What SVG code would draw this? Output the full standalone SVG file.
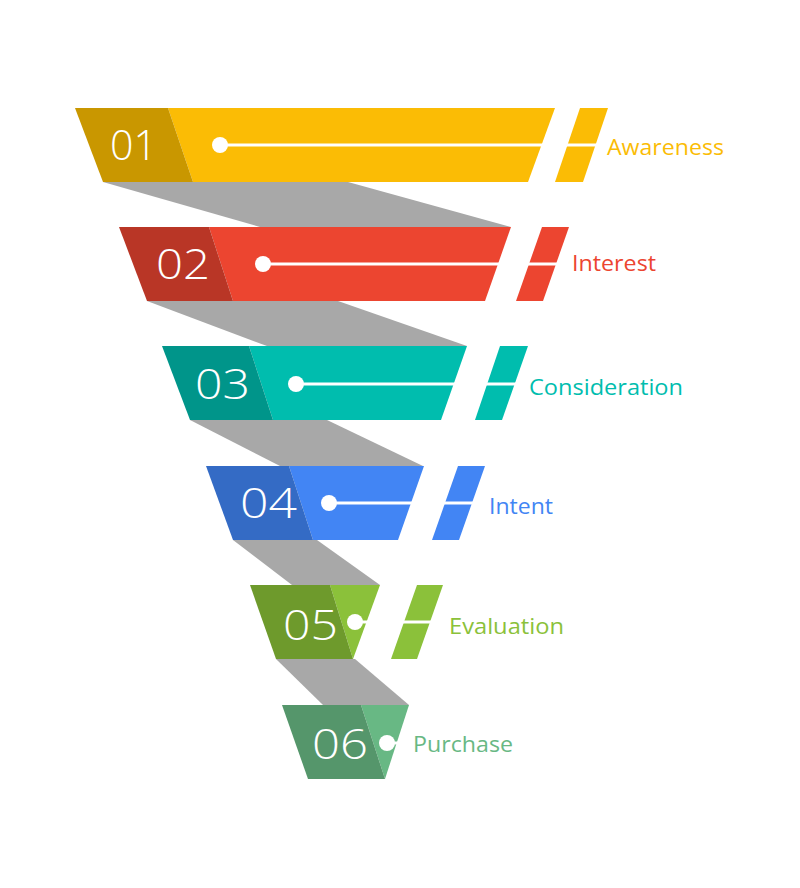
<svg xmlns="http://www.w3.org/2000/svg" width="800" height="888" viewBox="0 0 800 888">
<style>
.num{font-family:"Open Sans","Liberation Sans",sans-serif;font-weight:300;font-size:42px;fill:#fff}
.lbl{font-family:"Open Sans","Liberation Sans",sans-serif;font-weight:400;font-size:21px}
.ln{stroke:#fff;stroke-width:3}
.grey{fill:#a8a8a8}
</style>
<rect width="800" height="888" fill="#fff"/>
<g id="connectors">
<polygon class="grey" points="103,182 348,182 511,227 260,227"/>
<polygon class="grey" points="147,301 338,301 467,346 267,346"/>
<polygon class="grey" points="190,420 327,420 423,466 280,466"/>
<polygon class="grey" points="233,540 317,540 380,585 292,585"/>
<polygon class="grey" points="276,659 355,659 409,705 323,705"/>
</g>
<g id="stage1">
<polygon fill="#fbbc05" points="168,108 555,108 528,182 193,182"/>
<polygon fill="#c99700" points="75,108 168,108 193,182 103,182"/>
<polygon fill="#fbbc05" points="580,108 608,108 583,182 555,182"/>
<line class="ln" x1="220" y1="145" x2="610" y2="145"/>
<circle cx="220" cy="145" r="8" fill="#fff"/>
<text class="num" x="110" y="160" textLength="47" lengthAdjust="spacingAndGlyphs">01</text>
<text class="lbl" x="607" y="155" fill="#fbbc05" textLength="117" lengthAdjust="spacingAndGlyphs">Awareness</text>
</g>
<g id="stage2">
<polygon fill="#ec4530" points="209,227 511,227 485,301 233,301"/>
<polygon fill="#b93626" points="119,227 209,227 233,301 147,301"/>
<polygon fill="#ec4530" points="542,227 569,227 543,301 516,301"/>
<line class="ln" x1="263" y1="264" x2="571" y2="264"/>
<circle cx="263" cy="264" r="8" fill="#fff"/>
<text class="num" x="156" y="279" textLength="54" lengthAdjust="spacingAndGlyphs">02</text>
<text class="lbl" x="572" y="271" fill="#ec4530" textLength="84" lengthAdjust="spacingAndGlyphs">Interest</text>
</g>
<g id="stage3">
<polygon fill="#00bdae" points="249,346 467,346 441,420 273,420"/>
<polygon fill="#00958a" points="162,346 249,346 273,420 190,420"/>
<polygon fill="#00bdae" points="500,346 528,346 502,420 475,420"/>
<line class="ln" x1="296" y1="384" x2="530" y2="384"/>
<circle cx="296" cy="384" r="8" fill="#fff"/>
<text class="num" x="195" y="399" textLength="55" lengthAdjust="spacingAndGlyphs">03</text>
<text class="lbl" x="529" y="395" fill="#00bdae" textLength="154" lengthAdjust="spacingAndGlyphs">Consideration</text>
</g>
<g id="stage4">
<polygon fill="#4285f4" points="289,466 424,466 398,540 313,540"/>
<polygon fill="#346bc5" points="206,466 289,466 313,540 233,540"/>
<polygon fill="#4285f4" points="458,466 485,466 459,540 432,540"/>
<line class="ln" x1="329" y1="503" x2="487" y2="503"/>
<circle cx="329" cy="503" r="8" fill="#fff"/>
<text class="num" x="240" y="518" textLength="57" lengthAdjust="spacingAndGlyphs">04</text>
<text class="lbl" x="489" y="514" fill="#4285f4" textLength="64" lengthAdjust="spacingAndGlyphs">Intent</text>
</g>
<g id="stage5">
<polygon fill="#8bc13a" points="330,585 380,585 353,659"/>
<polygon fill="#6e9a2c" points="250,585 330,585 353,659 276,659"/>
<polygon fill="#8bc13a" points="417,585 443,585 417,659 391,659"/>
<line class="ln" x1="355" y1="622" x2="445" y2="622"/>
<circle cx="355" cy="622" r="8" fill="#fff"/>
<text class="num" x="283" y="640" textLength="55" lengthAdjust="spacingAndGlyphs">05</text>
<text class="lbl" x="449" y="634" fill="#8bc13a" textLength="115" lengthAdjust="spacingAndGlyphs">Evaluation</text>
</g>
<g id="stage6">
<polygon fill="#68b884" points="361,705 409,705 385,779"/>
<polygon fill="#55966b" points="282,705 361,705 385,779 308,779"/>
<line class="ln" x1="387" y1="743" x2="398" y2="743"/>
<circle cx="387" cy="743" r="8" fill="#fff"/>
<text class="num" x="312" y="759" textLength="56" lengthAdjust="spacingAndGlyphs">06</text>
<text class="lbl" x="413" y="752" fill="#68b884" textLength="100" lengthAdjust="spacingAndGlyphs">Purchase</text>
</g>
</svg>
